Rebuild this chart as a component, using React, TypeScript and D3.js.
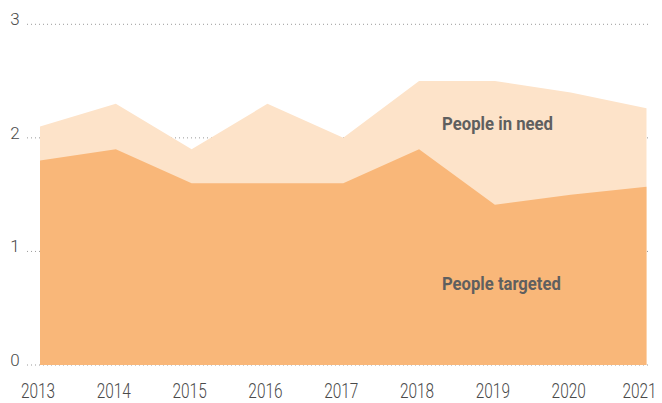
import React from "react";
import * as d3 from "d3";

const years = [2013, 2014, 2015, 2016, 2017, 2018, 2019, 2020, 2021];
const peopleInNeed = [2.1, 2.3, 1.9, 2.3, 2.0, 2.5, 2.5, 2.4, 2.26];
const peopleTargeted = [1.8, 1.9, 1.6, 1.6, 1.6, 1.9, 1.41, 1.5, 1.57];
const yTicks = [0, 1, 2, 3];

const W = 662;
const H = 403;

export default function App() {
  const x = d3.scaleLinear().domain([2013, 2021]).range([40, 646.5]);
  const y = d3.scaleLinear().domain([0, 3]).range([365, 24.3]);

  const area = d3
    .area<number>()
    .x((_, i) => x(years[i]))
    .y0(y(0))
    .y1((d) => y(d));

  const font = "Roboto, 'Noto Sans', sans-serif";

  return (
    <svg
      width={W}
      height={H}
      style={{ position: "absolute", left: 0, top: 0, background: "#fff" }}
    >
      {yTicks.map((t) => (
        <g key={t}>
          <line
            x1={27}
            x2={648}
            y1={y(t)}
            y2={y(t)}
            stroke="#9a9a9a"
            strokeWidth={1}
            strokeDasharray="1,3"
          />
          <text
            x={15}
            y={y(t) + 1}
            textAnchor="middle"
            fontFamily={font}
            fontWeight={300}
            fontSize={17}
            fill="#4a4a4a"
          >
            {t}
          </text>
        </g>
      ))}
      <path d={area(peopleInNeed) || ""} fill="#fde3c9" />
      <path d={area(peopleTargeted) || ""} fill="#f9b779" />
      {years.map((yr, i) => {
        const last = i === years.length - 1;
        const cx = last ? 639.5 : x(yr) - 2;
        return (
          <text
            key={yr}
            transform={`translate(${cx},397.8) scale(0.79,1)`}
            textAnchor="middle"
            fontFamily={font}
            fontWeight={300}
            fontSize={19.5}
            fill="#4a4a4a"
          >
            {yr}
          </text>
        );
      })}
      <text
        transform="translate(442,130) scale(0.93,1)"
        fontFamily={font}
        fontWeight={700}
        fontSize={18}
        fill="#5f5f5f"
      >
        People in need
      </text>
      <text
        transform="translate(442,290) scale(0.925,1)"
        fontFamily={font}
        fontWeight={700}
        fontSize={18}
        fill="#5f5f5f"
      >
        People targeted
      </text>
    </svg>
  );
}
